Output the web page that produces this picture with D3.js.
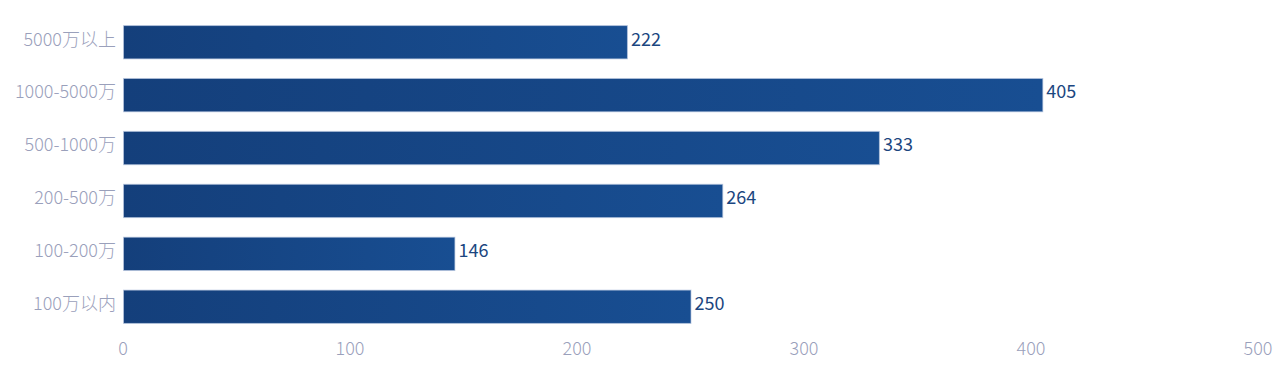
<!DOCTYPE html>
<html>
<head>
<meta charset="utf-8">
<script src="https://cdn.jsdelivr.net/npm/d3@7"></script>
<style>
  html, body { margin: 0; padding: 0; background: #fff; }
  svg { display: block; font-family: "Noto Sans CJK SC", "Noto Sans", sans-serif; font-weight: 300; }
  .cat { fill: #9aa0bb; font-size: 18px; }
  .tick-lbl { fill: #9aa0bb; font-size: 18px; }
  .val { fill: #1b4680; font-size: 18px; font-weight: 400; }
</style>
</head>
<body>
<svg id="chart" width="1280" height="382"></svg>
<script>
// categories, top to bottom
const categories = ["5000万以上", "1000-5000万", "500-1000万", "200-500万", "100-200万", "100万以内"];
const values = [222, 405, 333, 264, 146, 250];
const ticks = [0, 100, 200, 300, 400, 500];

const W = 1280, H = 382;
const m = { t: 15, r: 22, b: 48, l: 123 };
const svg = d3.select("#chart");

const x = d3.scaleLinear().domain([0, 500]).range([m.l, W - m.r]);
const y = d3.scaleBand().domain(categories).range([m.t, H - m.b]).paddingInner(0.37).paddingOuter(0.2);

// per-bar horizontal gradient (dark left → lighter right)
const grad = svg.append("defs").append("linearGradient").attr("id", "barGrad")
  .attr("x1", "0%").attr("x2", "100%").attr("y1", "0%").attr("y2", "0%");
grad.append("stop").attr("offset", "0%").attr("stop-color", "#143f7b");
grad.append("stop").attr("offset", "100%").attr("stop-color", "#184e92");

const rows = categories.map((c, i) => ({ c, v: values[i] }));

svg.append("g").selectAll("rect").data(rows).join("rect")
  .attr("x", x(0) + 0.5).attr("y", d => y(d.c))
  .attr("width", d => x(d.v) - x(0)).attr("height", y.bandwidth())
  .attr("fill", "url(#barGrad)")
  .attr("stroke", "#b9c7e0").attr("stroke-opacity", 0.7).attr("stroke-width", 1);

svg.append("g").selectAll("text").data(rows).join("text").attr("class", "val")
  .attr("x", d => x(d.v) + 4).attr("y", d => y(d.c) + y.bandwidth() / 2 - 3)
  .attr("dy", "0.35em").text(d => d.v);

svg.append("g").selectAll("text").data(rows).join("text").attr("class", "cat")
  .attr("x", m.l - 7).attr("y", d => y(d.c) + y.bandwidth() / 2 - 3)
  .attr("dy", "0.35em").attr("text-anchor", "end").text(d => d.c);

// x axis: labels only
svg.append("g").selectAll("text").data(ticks).join("text").attr("class", "tick-lbl")
  .attr("x", d => x(d)).attr("y", H - m.b + 15)
  .attr("dy", "0.35em").attr("text-anchor", "middle").text(d => d);
</script>
</body>
</html>
